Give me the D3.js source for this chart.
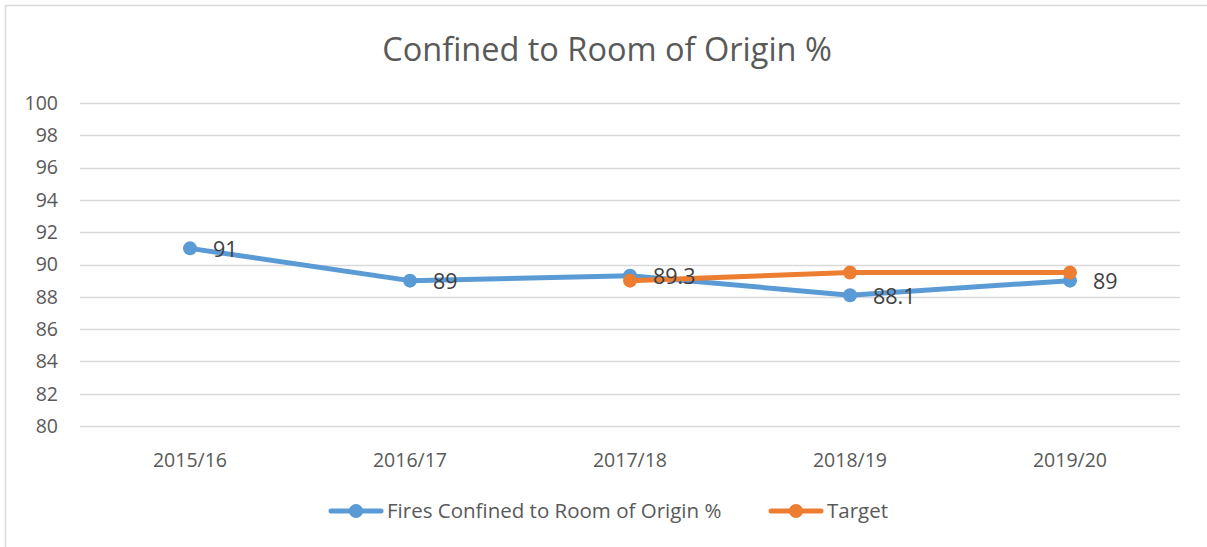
<!DOCTYPE html>
<html lang="en">
<head>
  <meta charset="UTF-8">
  <title>Confined to Room of Origin %</title>
  <script src="https://d3js.org/d3.v7.min.js"></script>
</head>
<style>
  body { margin: 0; background: #fff; }
  text { font-family: "Open Sans", "Noto Sans", sans-serif; }
  .grid line { stroke: #d9d9d9; stroke-width: 1.3px; }
  .tick-label { fill: #595959; font-size: 19.5px; }
  .legend-label { fill: #595959; font-size: 20.5px; }
  .data-label { fill: #404040; font-size: 21.5px; }
</style>
<body>
<svg id="chart" width="1207" height="547"></svg>

<script>
  // years on the x axis
  let years = ["2015/16", "2016/17", "2017/18", "2018/19", "2019/20"];
  // fires confined to room of origin %
  let confined = [91, 89, 89.3, 88.1, 89];
  // target (only from 2017/18)
  let target = [null, null, 89, 89.5, 89.5];
  let yTicks = [80, 82, 84, 86, 88, 90, 92, 94, 96, 98, 100];

  let svg = d3.select("#chart");

  // chart border
  svg.append("rect")
          .attr("x", 5.5).attr("y", 5.5)
          .attr("width", 1220).attr("height", 560)
          .attr("fill", "white")
          .attr("stroke", "#d9d9d9")
          .attr("stroke-width", 1.5);

  let x = d3.scaleBand().domain(years).range([80, 1180]);
  let y = d3.scaleLinear().domain([80, 100]).range([426, 103]);

  svg.append("text")
          .attr("x", 607).attr("y", 61)
          .attr("text-anchor", "middle")
          .attr("fill", "#595959")
          .style("font-size", "32.5px")
          .text("Confined to Room of Origin %");

  // horizontal gridlines
  svg.append("g").attr("class", "grid")
          .selectAll("line").data(yTicks).join("line")
          .attr("x1", 80).attr("x2", 1180)
          .attr("y1", d => Math.round(y(d)) + 0.5)
          .attr("y2", d => Math.round(y(d)) + 0.5);

  // y tick labels
  svg.append("g").selectAll("text").data(yTicks).join("text")
          .attr("class", "tick-label")
          .attr("x", 58).attr("y", d => y(d))
          .attr("dy", "0.35em")
          .attr("text-anchor", "end")
          .text(d => d);

  // x tick labels
  svg.append("g").selectAll("text").data(years).join("text")
          .attr("class", "tick-label")
          .attr("x", d => x(d) + x.bandwidth() / 2).attr("y", 467)
          .attr("text-anchor", "middle")
          .text(d => d);

  let cx = d => x(d) + x.bandwidth() / 2;

  function drawSeries(values, color) {
    let pts = years.map((yr, i) => ({yr: yr, v: values[i]})).filter(d => d.v != null);
    let line = d3.line().x(d => cx(d.yr)).y(d => y(d.v));
    svg.append("path")
            .attr("d", line(pts))
            .attr("fill", "none")
            .attr("stroke", color)
            .attr("stroke-width", 5)
            .attr("stroke-linejoin", "round")
            .attr("stroke-linecap", "round");
    svg.append("g").selectAll("circle").data(pts).join("circle")
            .attr("cx", d => cx(d.yr))
            .attr("cy", d => y(d.v))
            .attr("r", 7)
            .attr("fill", color);
    return pts;
  }

  let blue = "#5b9bd5";
  let orange = "#ed7d31";
  let bluePts = drawSeries(confined, blue);
  drawSeries(target, orange);

  // data labels for the main series
  svg.append("g").selectAll("text").data(bluePts).join("text")
          .attr("class", "data-label")
          .attr("x", d => cx(d.yr) + 23)
          .attr("y", d => y(d.v) + 1)
          .attr("dy", "0.35em")
          .text(d => d.v);

  // legend
  let legend = [
    {name: "Fires Confined to Room of Origin %", color: blue, x: 331},
    {name: "Target", color: orange, x: 771}
  ];
  let lg = svg.append("g").selectAll("g").data(legend).join("g")
          .attr("transform", d => `translate(${d.x},511)`);
  lg.append("line")
          .attr("x1", 0).attr("x2", 50)
          .attr("stroke", d => d.color)
          .attr("stroke-width", 5)
          .attr("stroke-linecap", "round");
  lg.append("circle")
          .attr("cx", 25).attr("r", 7)
          .attr("fill", d => d.color);
  lg.append("text")
          .attr("class", "legend-label")
          .attr("x", 56).attr("dy", "0.35em")
          .text(d => d.name);
</script>
</body>
</html>
